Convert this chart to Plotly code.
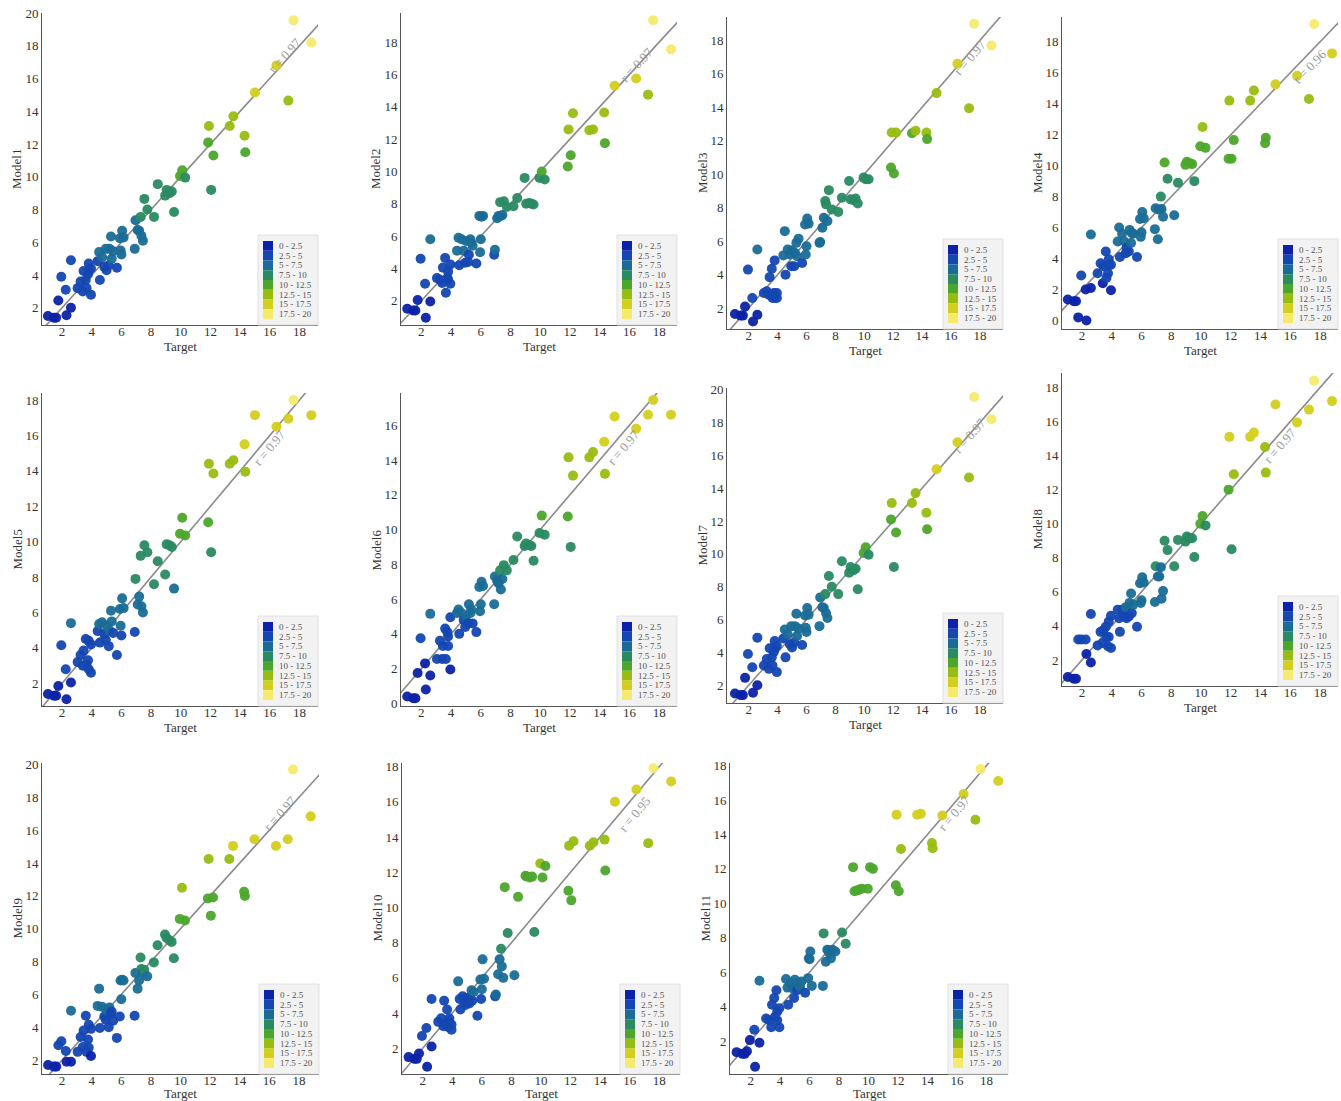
import math
import plotly.graph_objects as go

W, H = 1341, 1101

# Shared target values (x axis of every panel)
target = [1.05, 1.45, 1.6, 1.75, 1.95, 2.25, 2.3, 2.6, 2.6, 3.05,
          3.25, 3.4, 3.45, 3.6, 3.65, 3.75, 3.8, 3.8, 3.95, 3.95,
          4.4, 4.5, 4.55, 4.7, 4.85, 4.95, 5.0, 5.15, 5.2, 5.3,
          5.35, 5.45, 5.7, 5.9, 5.95, 6.0, 6.05, 6.15,
          6.9, 6.95, 7.1, 7.2, 7.3, 7.35, 7.45, 7.55, 7.75, 8.2, 8.45, 8.95, 9.05, 9.25, 9.4, 9.55,
          9.95, 10.1, 10.3, 11.85, 11.9, 12.05, 12.2, 13.3, 13.55, 14.3, 14.35, 15.0, 16.45, 17.25, 17.6, 18.8]

model1 = [1.5, 1.4, 1.4, 2.45, 3.9, 3.1, 1.55, 4.9, 2.0, 3.2,
          3.6, 3.0, 4.25, 3.7, 3.2, 4.05, 4.7, 4.3, 2.8, 4.4,
          4.85, 5.4, 3.7, 5.1, 4.5, 5.6, 4.3, 4.6, 5.6, 6.35,
          5.0, 5.45, 4.45, 6.25, 5.5, 5.25, 6.7, 6.3,
          5.6, 7.35, 6.75, 6.7, 7.55, 6.4, 6.1, 8.65, 8.0, 7.55, 9.55, 8.85, 9.2, 9.0, 9.1, 7.85,
          10.05, 10.4, 9.95, 12.1, 13.1, 9.2, 11.3, 13.1, 13.7, 12.5, 11.5, 15.15, 16.8, 14.65, 19.55, 18.2]

model2 = [1.5, 1.4, 1.4, 2.05, 4.6, 3.05, 0.95, 5.8, 1.95, 3.4,
          3.3, 3.1, 4.05, 4.65, 2.5, 3.4, 3.8, 3.3, 3.05, 4.25,
          5.1, 5.9, 4.2, 5.8, 5.1, 4.35, 5.7, 4.4, 4.85, 5.8,
          5.6, 5.4, 4.3, 7.25, 5.0, 5.8, 7.2, 7.25,
          4.85, 5.15, 7.1, 7.25, 8.1, 7.25, 7.3, 8.15, 7.8, 7.85, 8.35, 9.6, 8.0, 8.05, 8.0, 7.95,
          9.6, 10.0, 9.5, 10.3, 12.6, 11.0, 13.6, 12.55, 12.6, 13.65, 11.75, 15.3, 15.75, 14.75, 19.35, 17.55]

model3 = [1.65, 1.55, 1.55, 2.1, 4.3, 2.6, 1.2, 5.5, 1.6, 2.9,
          3.0, 2.8, 3.85, 4.35, 2.6, 2.9, 4.85, 2.6, 2.9, 2.6,
          5.15, 6.6, 4.0, 5.5, 5.2, 4.5, 5.45, 4.5, 5.3, 5.9,
          5.1, 6.15, 4.7, 7.0, 5.2, 5.7, 7.35, 7.05,
          5.9, 5.95, 6.8, 7.4, 8.4, 8.2, 7.2, 9.05, 7.9, 7.75, 8.6, 9.6, 8.5, 8.45, 8.55, 8.25,
          9.8, 9.7, 9.7, 10.4, 12.5, 10.05, 12.5, 12.45, 12.6, 12.5, 12.1, 14.85, 16.6, 13.95, 19.0, 17.7]

model4 = [1.35, 1.25, 1.25, 0.2, 2.9, 2.0, 0.0, 5.55, 2.1, 3.05,
          3.7, 2.4, 3.5, 4.45, 2.75, 3.05, 3.95, 3.55, 1.95, 3.6,
          5.1, 6.0, 4.1, 5.6, 5.1, 4.35, 4.7, 4.45, 5.85, 5.0,
          5.65, 5.6, 4.1, 6.55, 5.4, 5.7, 7.0, 6.6,
          5.9, 7.25, 5.25, 7.15, 8.0, 7.2, 6.7, 10.2, 9.15, 6.8, 8.9, 10.05, 10.25, 10.15, 10.1, 9.0,
          11.25, 12.5, 11.15, 10.45, 14.2, 10.45, 11.65, 14.2, 14.85, 11.45, 11.8, 15.25, 15.8, 14.3, 19.15, 17.25]

model5 = [1.4, 1.3, 1.3, 1.85, 4.15, 2.8, 1.1, 5.4, 2.05, 3.2,
          3.6, 3.0, 3.85, 4.5, 3.05, 3.3, 4.4, 2.8, 4.2, 2.6,
          4.95, 5.35, 4.3, 5.45, 4.8, 4.45, 5.25, 4.1, 5.0, 6.1,
          5.5, 4.85, 3.6, 6.2, 5.25, 4.7, 6.8, 6.25,
          4.9, 7.9, 6.45, 6.9, 9.2, 6.35, 6.0, 9.8, 9.4, 7.6, 8.9, 8.15, 9.85, 9.8, 9.7, 7.35,
          10.45, 11.35, 10.35, 11.1, 14.4, 9.4, 13.85, 14.4, 14.6, 15.5, 13.95, 17.15, 16.5, 16.95, 18.0, 17.15]

model6 = [0.4, 0.3, 0.3, 1.75, 3.75, 2.3, 0.8, 5.15, 1.6, 2.55,
          3.6, 2.55, 3.3, 4.3, 2.55, 4.1, 3.3, 3.85, 1.95, 4.95,
          5.2, 5.4, 4.0, 5.2, 4.8, 4.4, 5.0, 4.6, 5.7, 5.2,
          5.4, 4.6, 4.1, 6.7, 5.3, 5.7, 7.0, 6.75,
          5.7, 7.3, 7.05, 6.9, 7.65, 6.55, 7.15, 7.95, 7.65, 8.25, 9.6, 9.05, 9.2, 9.1, 9.05, 8.2,
          9.8, 10.8, 9.7, 10.75, 14.15, 9.0, 13.1, 14.15, 14.45, 15.05, 13.2, 16.5, 15.8, 16.6, 17.45, 16.6]

model7 = [1.5, 1.4, 1.4, 2.45, 3.9, 3.1, 1.55, 4.9, 2.0, 3.2,
          3.6, 3.0, 4.25, 3.7, 3.2, 4.05, 4.7, 4.3, 2.8, 4.4,
          4.85, 5.4, 3.7, 5.1, 4.5, 5.6, 4.3, 4.6, 5.6, 6.35,
          5.0, 5.45, 4.45, 6.25, 5.5, 5.25, 6.7, 6.3,
          5.6, 7.35, 6.75, 6.7, 7.55, 6.4, 6.1, 8.65, 8.0, 7.55, 9.55, 8.85, 9.2, 9.0, 9.1, 7.85,
          10.05, 10.4, 9.95, 12.1, 13.1, 9.2, 11.3, 13.1, 13.7, 12.5, 11.5, 15.15, 16.8, 14.65, 19.55, 18.2]

model8 = [1.0, 0.9, 0.9, 3.2, 3.2, 3.2, 2.35, 4.7, 1.85, 2.85,
          3.65, 3.0, 3.75, 3.95, 3.35, 2.8, 4.25, 3.35, 2.7, 4.6,
          4.95, 4.45, 3.65, 4.95, 4.55, 5.1, 4.45, 4.55, 5.35, 5.9,
          4.75, 5.25, 3.95, 6.5, 5.35, 5.5, 6.85, 6.55,
          5.4, 7.5, 6.9, 6.9, 7.45, 5.6, 6.05, 9.0, 8.45, 7.5, 9.05, 8.95, 9.25, 9.15, 9.15, 8.05,
          10.0, 10.45, 9.9, 12.0, 15.1, 8.5, 12.9, 15.1, 15.35, 14.5, 13.0, 17.0, 15.95, 16.7, 18.4, 17.2]

model9 = [1.7, 1.6, 1.6, 2.9, 3.15, 2.55, 1.9, 5.0, 1.9, 2.5,
          3.4, 2.8, 3.8, 4.7, 2.5, 3.25, 4.15, 2.75, 2.25, 3.9,
          5.3, 6.35, 3.95, 5.25, 4.65, 4.45, 5.05, 4.0, 5.2, 4.85,
          4.95, 4.4, 3.35, 4.65, 6.85, 5.7, 6.9, 6.85,
          4.7, 7.3, 6.35, 6.85, 8.25, 7.55, 7.35, 7.5, 7.1, 7.95, 9.0, 9.65, 9.45, 9.3, 9.2, 8.2,
          10.6, 12.5, 10.5, 11.85, 14.25, 10.8, 11.9, 14.25, 15.05, 12.25, 12.0, 15.45, 15.05, 15.45, 19.7, 16.85]

model10 = [1.5, 1.4, 1.4, 1.7, 2.7, 3.15, 0.95, 4.8, 2.1, 3.5,
           3.7, 3.25, 4.7, 3.4, 4.2, 3.2, 3.7, 3.5, 3.05, 3.35,
           5.8, 4.8, 4.2, 4.95, 4.45, 4.85, 4.6, 4.55, 4.85, 5.3,
           4.7, 5.2, 3.85, 5.9, 4.8, 5.35, 7.05, 5.95,
           4.95, 5.05, 6.2, 7.05, 7.65, 6.65, 6.0, 11.15, 8.55, 6.15, 10.6, 11.8, 11.75, 11.7, 11.75, 8.6,
           12.5, 11.7, 12.35, 10.95, 13.5, 10.4, 13.75, 13.5, 13.7, 13.85, 12.1, 16.0, 16.7, 13.65, 17.9, 17.15]

model11 = [1.35, 1.25, 1.25, 1.4, 2.05, 2.65, 0.5, 5.5, 1.9, 3.3,
           3.2, 2.8, 4.1, 4.5, 3.4, 4.95, 3.7, 3.2, 2.8, 3.9,
           5.6, 5.1, 4.1, 5.35, 5.05, 4.5, 5.55, 4.95, 5.35, 5.25,
           5.15, 5.45, 4.8, 5.65, 6.8, 6.75, 7.2, 5.2,
           5.2, 8.25, 6.6, 7.3, 7.25, 7.1, 6.8, 7.3, 7.2, 8.3, 7.65, 12.1, 10.7, 10.75, 10.8, 10.85,
           10.85, 12.1, 12.0, 11.05, 15.15, 10.7, 13.15, 15.15, 15.2, 13.5, 13.2, 15.1, 16.35, 14.85, 17.8, 17.1]

models = [model1, model2, model3, model4, model5, model6,
          model7, model8, model9, model10, model11]
model_names = ["Model1", "Model2", "Model3", "Model4", "Model5", "Model6",
               "Model7", "Model8", "Model9", "Model10", "Model11"]
r_values = [0.97, 0.97, 0.97, 0.96, 0.97, 0.97, 0.97, 0.97, 0.97, 0.95, 0.97]

bin_edges = [0, 2.5, 5, 7.5, 10, 12.5, 15, 17.5, 20]
bin_labels = ["0 - 2.5", "2.5 - 5", "5 - 7.5", "7.5 - 10",
              "10 - 12.5", "12.5 - 15", "15 - 17.5", "17.5 - 20"]
bin_colors = ["#0c22a8", "#1447b2", "#1a6c96", "#2a8a62",
              "#4da62c", "#98bd12", "#d4cf1e", "#f6ea6c"]

# Panel rectangles in pixels: (left, right, top, bottom), axis ranges, r-label spot
panels = [
    dict(box=(42, 318, 13, 325), xr=(0.65, 19.25), yr=(0.95, 20.0), rpos=(17.0, 17.4)),
    dict(box=(401, 677, 13, 325), xr=(0.63, 19.2), yr=(0.5, 19.8), rpos=(16.5, 16.6)),
    dict(box=(727, 1003, 17, 329), xr=(0.5, 19.6), yr=(0.75, 19.4), rpos=(17.3, 17.0)),
    dict(box=(1062, 1338, 17, 329), xr=(0.66, 19.2), yr=(-0.55, 19.6), rpos=(17.3, 16.4)),
    dict(box=(42, 318, 393, 706), xr=(0.65, 19.25), yr=(0.72, 18.4), rpos=(16.0, 15.3)),
    dict(box=(401, 677, 393, 706), xr=(0.63, 19.2), yr=(-0.15, 17.85), rpos=(15.6, 14.7)),
    dict(box=(727, 1003, 388, 703), xr=(0.5, 19.6), yr=(0.92, 20.1), rpos=(17.3, 17.2)),
    dict(box=(1062, 1338, 373, 686), xr=(0.66, 19.2), yr=(0.47, 18.85), rpos=(15.3, 14.6)),
    dict(box=(42, 319, 763, 1074), xr=(0.64, 19.36), yr=(1.15, 20.1), rpos=(16.7, 17.05)),
    dict(box=(402, 680, 763, 1074), xr=(0.6, 19.4), yr=(0.54, 18.2), rpos=(16.3, 15.3)),
    dict(box=(730, 1008, 763, 1074), xr=(0.6, 19.46), yr=(0.08, 18.15), rpos=(15.8, 15.2)),
]

SERIF = "Liberation Serif, Times New Roman, serif"
AXIS_COLOR = "#555555"
TEXT_COLOR = "#333333"


def color_for(v):
    for i in range(len(bin_colors)):
        if v < bin_edges[i + 1]:
            return bin_colors[i]
    return bin_colors[-1]


fig = go.Figure()
layout = dict(
    width=W, height=H, template="none",
    margin=dict(l=0, r=0, t=0, b=0),
    paper_bgcolor="white", plot_bgcolor="white",
    showlegend=False, font=dict(family=SERIF, color=TEXT_COLOR),
)
annotations = []
shapes = []

for i, (vals, name, r, p) in enumerate(zip(models, model_names, r_values, panels), start=1):
    sx = "" if i == 1 else str(i)
    xa, ya = "x" + sx, "y" + sx
    left, right, top, bottom = p["box"]
    pw, ph = right - left, bottom - top

    # identity line
    fig.add_trace(go.Scatter(x=[-2, 22], y=[-2, 22], mode="lines",
                             line=dict(color="#8a8a8a", width=1.6),
                             xaxis=xa, yaxis=ya, hoverinfo="skip"))
    # model vs target points, coloured by predicted value band
    fig.add_trace(go.Scatter(x=target, y=vals, mode="markers",
                             marker=dict(size=10, color=[color_for(v) for v in vals],
                                         opacity=0.95, line=dict(width=0)),
                             xaxis=xa, yaxis=ya, name=name))

    layout["xaxis" + sx] = dict(
        domain=[left / W, right / W], anchor=ya, range=list(p["xr"]),
        tickvals=list(range(2, 20, 2)), showgrid=False, zeroline=False,
        showline=True, linecolor=AXIS_COLOR, linewidth=1, ticks="",
        ticklabelstandoff=-6, automargin=False,
        tickfont=dict(family=SERIF, size=13, color=TEXT_COLOR),
    )
    layout["yaxis" + sx] = dict(
        domain=[1 - bottom / H, 1 - top / H], anchor=xa, range=list(p["yr"]),
        tick0=0, dtick=2, showgrid=False, zeroline=False,
        showline=True, linecolor=AXIS_COLOR, linewidth=1, ticks="",
        automargin=False,
        tickfont=dict(family=SERIF, size=13, color=TEXT_COLOR),
    )

    # axis titles
    title_y = min(bottom + 21, H - 8)
    annotations.append(dict(x=0.5, y=1 - title_y / H, xref=xa + " domain", yref="paper",
                            text="Target", showarrow=False, xanchor="center", yanchor="middle",
                            font=dict(family=SERIF, size=13, color=TEXT_COLOR)))
    annotations.append(dict(x=(left - 25) / W, y=0.5, xref="paper", yref=ya + " domain",
                            text=name, showarrow=False, textangle=-90,
                            xanchor="center", yanchor="middle",
                            font=dict(family=SERIF, size=13, color=TEXT_COLOR)))

    # r label laid along the identity line
    ppx = pw / (p["xr"][1] - p["xr"][0])
    ppy = ph / (p["yr"][1] - p["yr"][0])
    angle = -math.degrees(math.atan2(ppy, ppx))
    annotations.append(dict(
        x=p["rpos"][0], y=p["rpos"][1], xref=xa, yref=ya, text=f"r = {r:.2f}",
        showarrow=False, textangle=angle,
        font=dict(family=SERIF, size=13, color="#9a9a9a"),
    ))

    # band legend in the lower-right corner
    dxr, dyr = xa + " domain", ya + " domain"
    box_w, box_h = 60, 90
    bx0 = (pw - box_w) / pw
    by1 = box_h / ph
    shapes.append(dict(type="rect", xref=dxr, yref=dyr, x0=bx0, x1=1.0, y0=0.0, y1=by1,
                       fillcolor="#f2f2f2", line=dict(color="#e0e0e0", width=1), layer="above"))
    row_h = 9.75
    for k, (lab, col) in enumerate(zip(bin_labels, bin_colors)):
        ytop = box_h - 6 - k * row_h
        ybot = ytop - row_h
        shapes.append(dict(type="rect", xref=dxr, yref=dyr,
                           x0=bx0 + 5 / pw, x1=bx0 + 15 / pw,
                           y0=ybot / ph, y1=ytop / ph,
                           fillcolor=col, line=dict(width=0), layer="above"))
        annotations.append(dict(x=bx0 + 19 / pw, y=(ytop + ybot) / 2 / ph,
                                xref=dxr, yref=dyr, text=lab, showarrow=False,
                                xanchor="left", yanchor="middle",
                                font=dict(family=SERIF, size=9, color="#555555")))

layout["annotations"] = annotations
layout["shapes"] = shapes
fig.update_layout(**layout)
fig.write_html("out.html")
